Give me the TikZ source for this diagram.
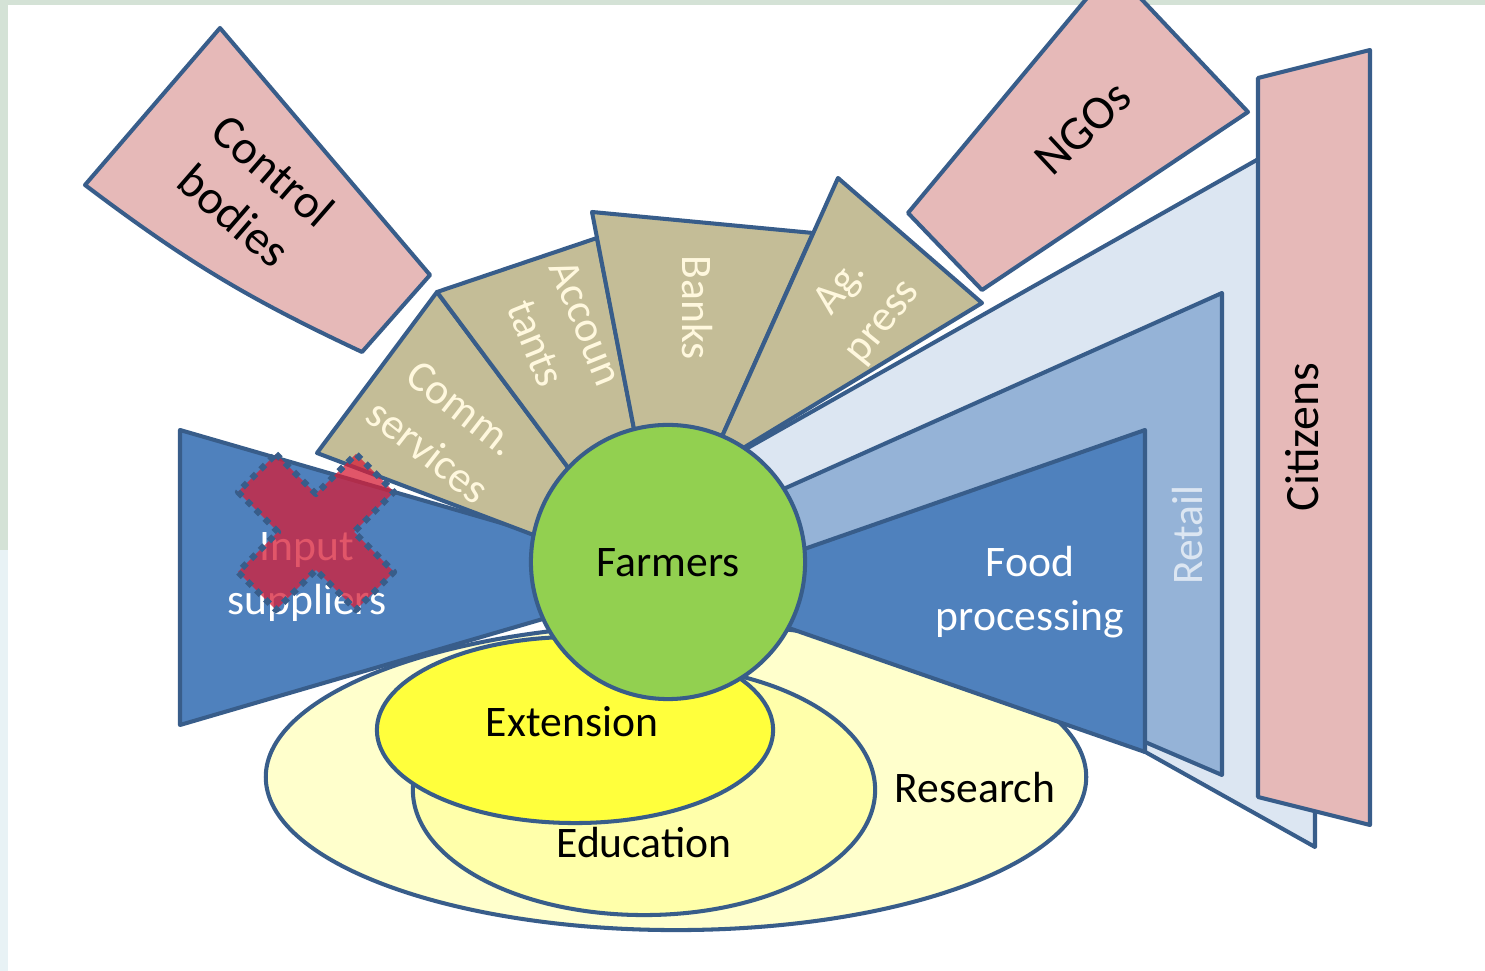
\documentclass[tikz,border=0pt]{standalone}
\usepackage{fontspec}
\setmainfont{Carlito}
\definecolor{FrameGreen}{RGB}{212,226,214}
\definecolor{FrameBlue}{RGB}{232,242,245}
\definecolor{Edge}{RGB}{56,93,138}
\definecolor{ChainBlue}{RGB}{79,129,189}
\definecolor{RetailBlue}{RGB}{149,179,215}
\definecolor{PaleBlue}{RGB}{220,230,242}
\definecolor{Khaki}{RGB}{196,189,151}
\definecolor{Rose}{RGB}{230,185,184}
\definecolor{Leaf}{RGB}{146,208,80}
\definecolor{PaleYellow}{RGB}{255,255,204}
\definecolor{SoftYellow}{RGB}{255,255,170}
\definecolor{BrightYellow}{RGB}{255,255,60}
\definecolor{Cream}{RGB}{255,248,222}
\definecolor{CrossRed}{RGB}{215,30,55}

\begin{document}
\begin{tikzpicture}[x=0.01cm, y=-0.01cm, line width=1.15pt, line join=round,
    every node/.style={font=\fontsize{12.4}{15.5}\selectfont, align=center, inner sep=0pt},
    bigtext/.style={font=\fontsize{13.6}{17}\selectfont},
    patch/.style={draw=Edge, fill=#1}]
  \useasboundingbox (0,0) rectangle (1485,971);
  \clip (0,0) rectangle (1485,971);
  \fill[FrameGreen] (0,0) rectangle (1485,971);
  \fill[FrameBlue] (0,550) rectangle (8,971);
  \fill[white] (8,5) rectangle (1485,971);

  \draw[patch=PaleYellow] (676,777) ellipse [x radius=4.10cm, y radius=1.53cm];
  \draw[patch=SoftYellow] (644,790) ellipse [x radius=2.31cm, y radius=1.25cm];
  \draw[patch=BrightYellow] (575,730) ellipse [x radius=1.98cm, y radius=0.93cm];

  \draw[patch=PaleBlue] (730,458) -- (1315,127) -- (1315,847) -- (790,553) -- cycle;
  \draw[patch=RetailBlue] (770,495) -- (1222,293) -- (1222,775) -- (790,590) -- cycle;
  \draw[patch=ChainBlue] (790,554) -- (1145,430) -- (1145,752) -- (780,625) -- cycle;
  \draw[patch=Rose] (1258,78) -- (1370,50) -- (1370,825) -- (1258,797) -- cycle;

  \draw[patch=ChainBlue] (180,430) -- (560,540) -- (560,614) -- (180,725) -- cycle;

  \draw[patch=Khaki] (317,453) -- (437,292) -- (590,497) -- (560,545) -- cycle;
  \draw[patch=Khaki] (437,292) -- (597,238) -- (640,460) -- (590,497) -- cycle;
  \draw[patch=Khaki] (592,212) -- (813,233) -- (707,470) -- (640,460) -- cycle;
  \draw[patch=Khaki] (838,178) -- (982,303) -- (707,470) -- cycle;

  \draw[patch=Leaf] (668,562) circle [radius=1.37cm];

  \draw[patch=Rose] (85,185) -- (220,28) -- (430,275) -- (362,352) to[bend left=6] (85,185) -- cycle;
  \draw[patch=Rose] (908,213) -- (1112,-32) -- (1248,112) -- (982,290) -- cycle;

  \path node (ctl) at (254,193) [rotate=-41, bigtext] {Control\\bodies}
        node (ngo) at (1083,128) [rotate=43, bigtext] {NGOs}
        node (cit) at (1302,437) [rotate=90, bigtext] {Citizens}
        node (com) at (445,430) [rotate=-38, text=Cream] {Comm.\\services}
        node (acc) at (561,333) [rotate=-68, text=Cream] {Accoun\\tants}
        node (bnk) at (697,308) [rotate=-90, text=Cream] {Banks}
        node (agp) at (862,305) [rotate=51, text=Cream] {Ag.\\press}
        node (frm) at (668,563) {Farmers}
        node (inp) at (307,577) [text=white] {Input\\suppliers}
        node (fdp) at (1030,592) [text=white] {Food\\processing}
        node (ret) at (1188,535) [rotate=90, text=PaleBlue] {Retail}
        node (ext) at (572,722) {Extension}
        node (edu) at (644,843) {Education}
        node (res) at (975,788) {Research};

  \draw[fill=CrossRed, fill opacity=0.75, draw=Edge, line width=1.8pt,
        dash pattern=on 1.8pt off 1.8pt]
    (276,454) -- (316,494) -- (356,454) -- (394,492) -- (354,532) -- (394,572)
    -- (356,610) -- (316,570) -- (276,610) -- (238,572) -- (278,532) -- (238,492) -- cycle;
\end{tikzpicture}
\end{document}
